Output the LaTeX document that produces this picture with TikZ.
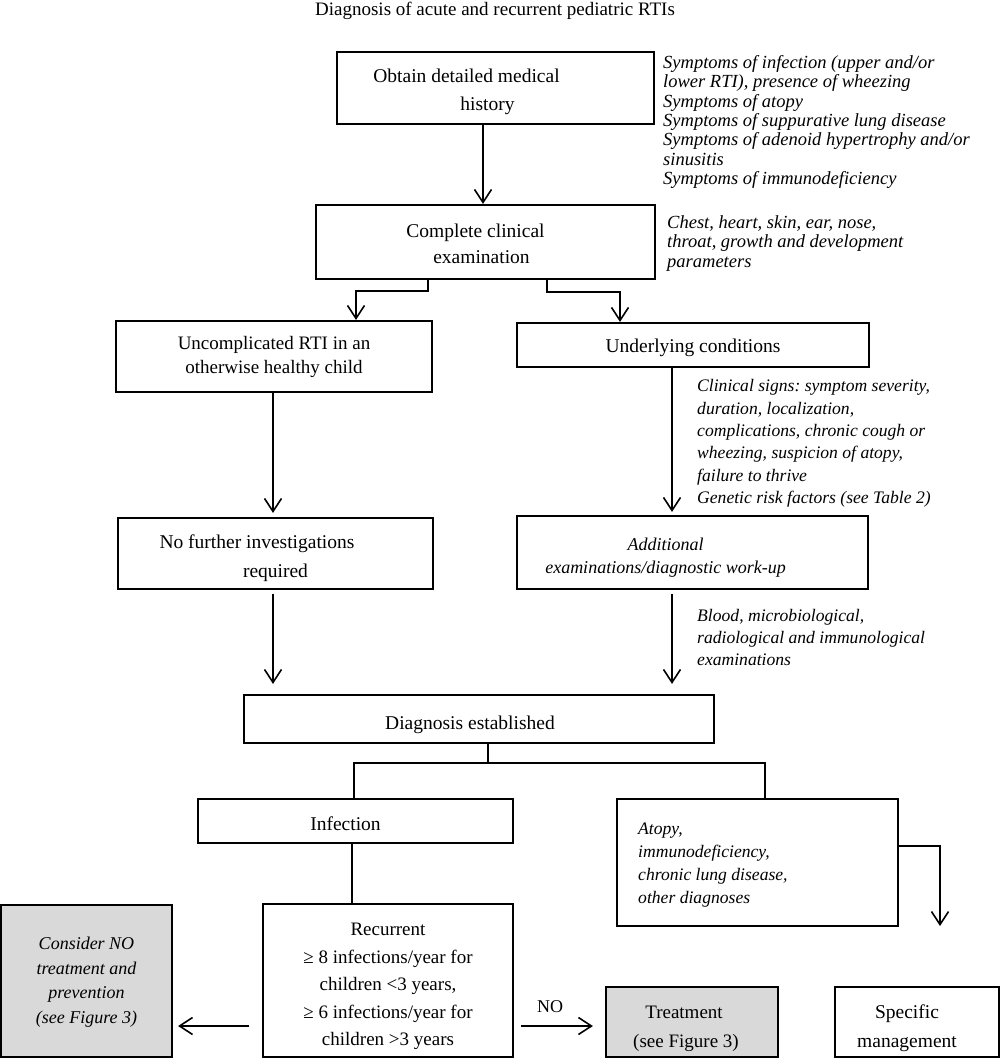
\documentclass[tikz,border=0pt]{standalone}
\usepackage{fontspec}
\setmainfont{Liberation Serif}
\usetikzlibrary{arrows.meta,calc}
\frenchspacing
\newcommand{\boxfont}{\fontsize{19.5}{28}\selectfont}
\newcommand{\sh}[1]{\hspace*{#1}}
\begin{document}
\begin{tikzpicture}[x=1pt,y=-1pt,
  box/.style={draw, line width=2.2pt, inner sep=0pt},
  graybox/.style={box, fill=black!15},
  bt/.style={align=center, inner sep=0pt, font=\boxfont},
  side/.style={anchor=north west, inner sep=0pt, align=left},
  conn/.style={line width=1.6pt},
  thin conn/.style={line width=1.3pt},
  arr/.style={conn, -{Straight Barb[length=13pt,width=17pt,line width=1.6pt]}}
]
\useasboundingbox (0,0) rectangle (1000,1060);
% title
\node[font=\fontsize{19}{21}\selectfont, anchor=base] (title) at (495,16) {Diagnosis of acute and recurrent pediatric RTIs};
% boxes
\node[box, minimum width=317pt, minimum height=72pt,
  label={[bt, yshift=-4pt]center:{Obtain detailed medical\sh{58pt}\\history\sh{16pt}}}] (b1) at (495.5,88) {};
\node[box, minimum width=339pt, minimum height=74pt,
  label={[bt, font=\fontsize{19.5}{26.5}\selectfont, yshift=-2pt]center:{Complete clinical\sh{20pt}\\examination\sh{8pt}}}] (b2) at (485.5,242) {};
\node[box, minimum width=316pt, minimum height=71pt,
  label={[bt, font=\fontsize{19}{24}\selectfont]center:{Uncomplicated RTI in an\\otherwise healthy child}}] (b3) at (274,356.5) {};
\node[box, minimum width=352pt, minimum height=44pt,
  label={[bt, yshift=-3pt]center:{Underlying conditions}}] (b4) at (693,345) {};
\node[box, minimum width=315pt, minimum height=71pt,
  label={[bt, font=\fontsize{19.5}{29}\selectfont, yshift=-5pt]center:{No further investigations\sh{37pt}\\required}}] (b5) at (275.5,553.5) {};
\node[box, minimum width=351pt, minimum height=73pt,
  label={[bt, font=\fontsize{18}{23.5}\selectfont\itshape, yshift=-5pt]center:{Additional\sh{54pt}\\examinations/diagnostic work-up\sh{54pt}}}] (b6) at (692.5,552.5) {};
\node[box, minimum width=470pt, minimum height=48pt,
  label={[bt, yshift=-6pt]center:{Diagnosis established\sh{18pt}}}] (b7) at (479,719) {};
\node[box, minimum width=315pt, minimum height=44pt,
  label={[bt, yshift=-3pt]center:{Infection\sh{20pt}}}] (b8) at (355.5,821) {};
\node[box, minimum width=281pt, minimum height=127pt] (b9) at (757.5,862.5) {};
\node[side, font=\fontsize{17.6}{23}\selectfont\itshape] (t9) at (638,823) {Atopy,\\immunodeficiency,\\chronic lung disease,\\other diagnoses};
\node[box, minimum width=250pt, minimum height=153pt,
  label={[bt, font=\fontsize{19}{27.5}\selectfont, yshift=-6pt]center:{Recurrent\\≥ 8 infections/year for\\children <3 years,\\≥ 6 infections/year for\\children >3 years}}] (b10) at (388,980.5) {};
\node[graybox, minimum width=171pt, minimum height=152pt,
  label={[bt, font=\fontsize{18}{24.5}\selectfont\itshape, yshift=-1pt]center:{Consider NO\\treatment and\\prevention\\(see Figure 3)}}] (b11) at (86.5,981) {};
\node[graybox, minimum width=172pt, minimum height=70pt,
  label={[bt, font=\fontsize{19}{29}\selectfont, yshift=-7pt]center:{Treatment\sh{16pt}\\(see Figure 3)\sh{12pt}}}] (b12) at (692,1022) {};
\node[box, minimum width=164pt, minimum height=70pt,
  label={[bt, font=\fontsize{19.5}{29}\selectfont, yshift=-6pt]center:{Specific\sh{20pt}\\management\sh{20pt}}}] (b13) at (917,1022) {};
% side texts
\node[side, font=\fontsize{18.5}{19.4}\selectfont\itshape] (t1) at (663,55) {Symptoms of infection (upper and/or\\lower RTI), presence of wheezing\\Symptoms of atopy\\Symptoms of suppurative lung disease\\Symptoms of adenoid hypertrophy and/or\\sinusitis\\Symptoms of immunodeficiency};
\node[side, font=\fontsize{18.5}{19.7}\selectfont\itshape] (t2) at (667,215) {Chest, heart, skin, ear, nose,\\throat, growth and development\\parameters};
\node[side, font=\fontsize{17.6}{22.3}\selectfont\itshape] (t3) at (697,379.5) {Clinical signs: symptom severity,\\duration, localization,\\complications, chronic cough or\\wheezing, suspicion of atopy,\\failure to thrive\\Genetic risk factors (see Table 2)};
\node[side, font=\fontsize{17.6}{22}\selectfont\itshape] (t4) at (697,609.5) {Blood, microbiological,\\radiological and immunological\\examinations};
% connectors
\draw[arr] (483,0 |- b1.south) -- (483,0 |- b2.north);
\draw[arr] (428,0 |- b2.south) -- (428,291) -- (356,291) -- (356,0 |- b3.north);
\draw[arr] (547,0 |- b2.south) -- (547,292) -- (620,292) -- (620,0 |- b4.north);
\draw[arr, shorten >=4pt] (273,0 |- b3.south) -- (273,0 |- b5.north);
\draw[arr, shorten >=3pt] (672,0 |- b4.south) -- (672,0 |- b6.north);
\draw[arr, shorten <=4pt, shorten >=10pt] (273,0 |- b5.south) -- (273,0 |- b7.north);
\draw[arr, shorten <=4pt, shorten >=10pt] (672,0 |- b6.south) -- (672,0 |- b7.north);
\draw[thin conn] (488,0 |- b7.south) -- (488,763);
\draw[thin conn] (354,0 |- b8.north) -- (354,763) -- (765,763) -- (765,0 |- b9.north);
\draw[thin conn] (352,0 |- b8.south) -- (352,0 |- b10.north);
\coordinate (e9) at (940,926);
\draw[arr] (b9.east |- 0,846) -- (940,846) -- (e9);
\draw[arr, shorten <=13pt, shorten >=5pt] (b10.west |- 0,1026) -- (b11.east |- 0,1026);
\draw[arr, shorten <=7pt, shorten >=12pt] (b10.east |- 0,1026) -- (b12.west |- 0,1026);
\node[font=\fontsize{18}{20}\selectfont, anchor=base] (no) at (550,1012) {NO};
\end{tikzpicture}
\end{document}
